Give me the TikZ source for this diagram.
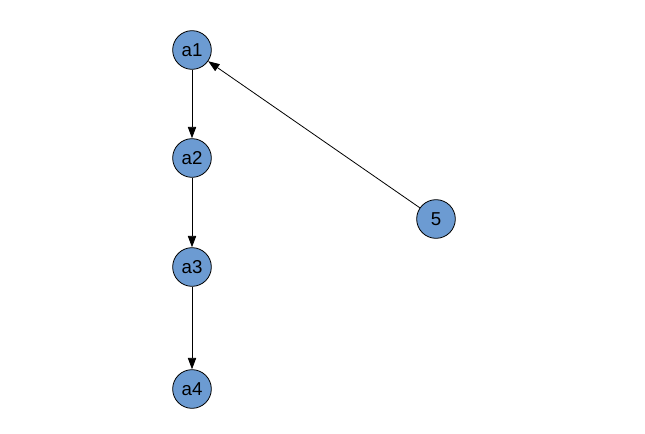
\documentclass[tikz,border=0pt]{standalone}
\usepackage{fontspec}
\setmainfont{Liberation Sans}
\usetikzlibrary{arrows.meta}
\definecolor{nodefill}{RGB}{108,155,210}
\begin{document}
\begin{tikzpicture}[x=0.75pt,y=-0.75pt,
  vnode/.style={circle,draw=black,line width=0.6pt,fill=nodefill,minimum size=29pt,inner sep=0pt,font=\fontsize{14}{16}\selectfont},
  edge/.style={-{Triangle[length=8.5pt,width=6.2pt]},line width=0.6pt,draw=black}]
\useasboundingbox (0,0) rectangle (645,434);
\node[vnode] (a1) at (192,50) {a1};
\node[vnode] (a2) at (192,158) {a2};
\node[vnode] (a3) at (192,267) {a3};
\node[vnode] (a4) at (192,389) {a4};
\node[vnode] (n5) at (436,219) {5};
\draw[edge] (a1) -- (a2);
\draw[edge] (a2) -- (a3);
\draw[edge] (a3) -- (a4);
\draw[edge] (n5) -- (a1);
\end{tikzpicture}
\end{document}
